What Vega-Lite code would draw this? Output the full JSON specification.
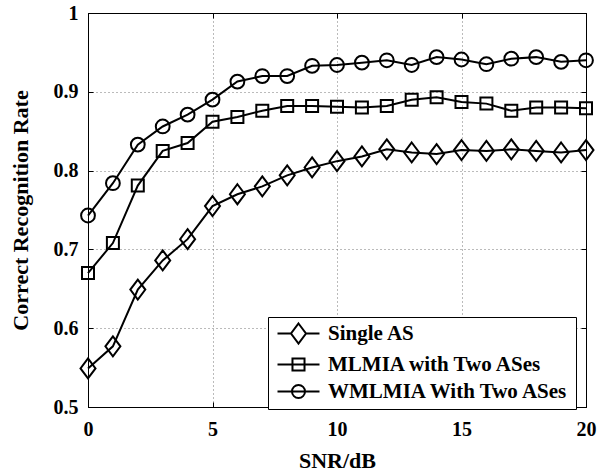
{
  "$schema": "https://vega.github.io/schema/vega-lite/v6.json",
  "width": 498,
  "height": 394,
  "autosize": {"type": "none"},
  "padding": {"left": 88, "top": 13, "right": 11, "bottom": 65},
  "background": "white",
  "config": {
    "view": {"stroke": "black", "strokeWidth": 1},
    "font": "Liberation Serif",
    "axis": {
      "domainColor": "black",
      "tickColor": "black",
      "tickSize": -5,
      "labelFlush": false,
      "labelFont": "Liberation Serif",
      "labelFontWeight": "bold",
      "labelFontSize": 20,
      "labelColor": "black",
      "titleFont": "Liberation Serif",
      "titleFontWeight": "bold",
      "titleFontSize": 22,
      "titleColor": "black",
      "gridColor": "#777",
      "gridDash": [1, 3],
      "gridWidth": 1
    }
  },
  "data": {"values": [
    {"snr":0,"rate":0.549,"series":"Single AS"},{"snr":1,"rate":0.577,"series":"Single AS"},{"snr":2,"rate":0.649,"series":"Single AS"},{"snr":3,"rate":0.686,"series":"Single AS"},{"snr":4,"rate":0.713,"series":"Single AS"},{"snr":5,"rate":0.755,"series":"Single AS"},{"snr":6,"rate":0.770,"series":"Single AS"},{"snr":7,"rate":0.780,"series":"Single AS"},{"snr":8,"rate":0.794,"series":"Single AS"},{"snr":9,"rate":0.804,"series":"Single AS"},{"snr":10,"rate":0.812,"series":"Single AS"},{"snr":11,"rate":0.818,"series":"Single AS"},{"snr":12,"rate":0.827,"series":"Single AS"},{"snr":13,"rate":0.823,"series":"Single AS"},{"snr":14,"rate":0.821,"series":"Single AS"},{"snr":15,"rate":0.826,"series":"Single AS"},{"snr":16,"rate":0.825,"series":"Single AS"},{"snr":17,"rate":0.827,"series":"Single AS"},{"snr":18,"rate":0.825,"series":"Single AS"},{"snr":19,"rate":0.823,"series":"Single AS"},{"snr":20,"rate":0.826,"series":"Single AS"},
    {"snr":0,"rate":0.670,"series":"MLMIA with Two ASes"},{"snr":1,"rate":0.708,"series":"MLMIA with Two ASes"},{"snr":2,"rate":0.781,"series":"MLMIA with Two ASes"},{"snr":3,"rate":0.825,"series":"MLMIA with Two ASes"},{"snr":4,"rate":0.835,"series":"MLMIA with Two ASes"},{"snr":5,"rate":0.862,"series":"MLMIA with Two ASes"},{"snr":6,"rate":0.868,"series":"MLMIA with Two ASes"},{"snr":7,"rate":0.876,"series":"MLMIA with Two ASes"},{"snr":8,"rate":0.882,"series":"MLMIA with Two ASes"},{"snr":9,"rate":0.882,"series":"MLMIA with Two ASes"},{"snr":10,"rate":0.881,"series":"MLMIA with Two ASes"},{"snr":11,"rate":0.880,"series":"MLMIA with Two ASes"},{"snr":12,"rate":0.882,"series":"MLMIA with Two ASes"},{"snr":13,"rate":0.890,"series":"MLMIA with Two ASes"},{"snr":14,"rate":0.893,"series":"MLMIA with Two ASes"},{"snr":15,"rate":0.887,"series":"MLMIA with Two ASes"},{"snr":16,"rate":0.885,"series":"MLMIA with Two ASes"},{"snr":17,"rate":0.876,"series":"MLMIA with Two ASes"},{"snr":18,"rate":0.880,"series":"MLMIA with Two ASes"},{"snr":19,"rate":0.880,"series":"MLMIA with Two ASes"},{"snr":20,"rate":0.879,"series":"MLMIA with Two ASes"},
    {"snr":0,"rate":0.743,"series":"WMLMIA With Two ASes"},{"snr":1,"rate":0.784,"series":"WMLMIA With Two ASes"},{"snr":2,"rate":0.833,"series":"WMLMIA With Two ASes"},{"snr":3,"rate":0.856,"series":"WMLMIA With Two ASes"},{"snr":4,"rate":0.871,"series":"WMLMIA With Two ASes"},{"snr":5,"rate":0.890,"series":"WMLMIA With Two ASes"},{"snr":6,"rate":0.913,"series":"WMLMIA With Two ASes"},{"snr":7,"rate":0.920,"series":"WMLMIA With Two ASes"},{"snr":8,"rate":0.920,"series":"WMLMIA With Two ASes"},{"snr":9,"rate":0.933,"series":"WMLMIA With Two ASes"},{"snr":10,"rate":0.934,"series":"WMLMIA With Two ASes"},{"snr":11,"rate":0.937,"series":"WMLMIA With Two ASes"},{"snr":12,"rate":0.940,"series":"WMLMIA With Two ASes"},{"snr":13,"rate":0.934,"series":"WMLMIA With Two ASes"},{"snr":14,"rate":0.944,"series":"WMLMIA With Two ASes"},{"snr":15,"rate":0.941,"series":"WMLMIA With Two ASes"},{"snr":16,"rate":0.935,"series":"WMLMIA With Two ASes"},{"snr":17,"rate":0.942,"series":"WMLMIA With Two ASes"},{"snr":18,"rate":0.944,"series":"WMLMIA With Two ASes"},{"snr":19,"rate":0.938,"series":"WMLMIA With Two ASes"},{"snr":20,"rate":0.940,"series":"WMLMIA With Two ASes"}
  ]},
  "resolve": {"axis": {"x": "independent", "y": "independent"}, "scale": {"shape": "independent"}},
  "layer": [
    {
      "mark": {"type": "line", "color": "black", "strokeWidth": 2},
      "encoding": {
        "x": {"field": "snr", "type": "quantitative", "scale": {"domain": [0, 20], "nice": false},
              "axis": {"values": [0, 5, 10, 15, 20], "title": "SNR/dB", "grid": true, "labelPadding": 17, "titleY": 53, "titleBaseline": "middle"}},
        "y": {"field": "rate", "type": "quantitative", "scale": {"domain": [0.5, 1], "nice": false, "zero": false},
              "axis": {"values": [0.5, 0.6, 0.7, 0.8, 0.9, 1], "format": "~g", "title": "Correct Recognition Rate", "grid": true, "labelPadding": 15, "titleX": -68, "titleY": 197, "titleBaseline": "middle", "titleAnchor": "middle"}},
        "detail": {"field": "series", "type": "nominal"}
      }
    },
    {
      "mark": {"type": "point", "filled": false, "stroke": "black", "strokeWidth": 2, "size": 225, "opacity": 1},
      "encoding": {
        "x": {"field": "snr", "type": "quantitative", "axis": null},
        "y": {"field": "rate", "type": "quantitative", "axis": null},
        "shape": {"field": "series", "type": "nominal",
          "scale": {"domain": ["Single AS", "MLMIA with Two ASes", "WMLMIA With Two ASes"],
                    "range": ["M0,-1.33L1,0L0,1.33L-1,0Z", "M-0.8,-0.8H0.8V0.8H-0.8Z", "M-0.92,0A0.92,0.92,0,1,0,0.92,0A0.92,0.92,0,1,0,-0.92,0Z"]},
          "legend": null
        }
      }
    },
    {
      "mark": {"type": "point", "filled": false, "stroke": "black", "strokeWidth": 2, "size": 196, "opacity": 0},
      "encoding": {
        "x": {"field": "snr", "type": "quantitative", "axis": null},
        "y": {"field": "rate", "type": "quantitative", "axis": null},
        "shape": {"field": "series", "type": "nominal",
          "scale": {"domain": ["Single AS", "MLMIA with Two ASes", "WMLMIA With Two ASes"],
                    "range": ["M-1,0H0.93M3.07,0H5M2,-1.43L3.07,0L2,1.43L0.93,0Z", "M-1,0H5M1.14,-0.86H2.86V0.86H1.14Z", "M-1,0H5M1.07,0A0.93,0.93,0,1,0,2.93,0A0.93,0.93,0,1,0,1.07,0Z"]},
          "legend": {
            "title": null,
            "orient": "none",
            "legendX": 180,
            "legendY": 304,
            "strokeColor": "black",
            "fillColor": "white",
            "padding": 6,
            "symbolSize": 196,
            "symbolOpacity": 1,
            "symbolStrokeColor": "black",
            "symbolStrokeWidth": 2,
            "symbolFillColor": "transparent",
            "labelFont": "Liberation Serif",
            "labelFontWeight": "bold",
            "labelFontSize": 21,
            "labelColor": "black",
            "labelLimit": 0,
            "labelOffset": 33,
            "rowPadding": 5
          }
        }
      }
    },
    {
      "mark": {"type": "line", "strokeOpacity": 0},
      "encoding": {
        "x": {"field": "snr", "type": "quantitative", "axis": {"orient": "top", "values": [0, 5, 10, 15, 20], "labels": false, "title": null, "grid": false}},
        "y": {"field": "rate", "type": "quantitative", "axis": {"orient": "right", "values": [0.5, 0.6, 0.7, 0.8, 0.9, 1], "labels": false, "title": null, "grid": false}},
        "detail": {"field": "series", "type": "nominal"}
      }
    }
  ]
}
